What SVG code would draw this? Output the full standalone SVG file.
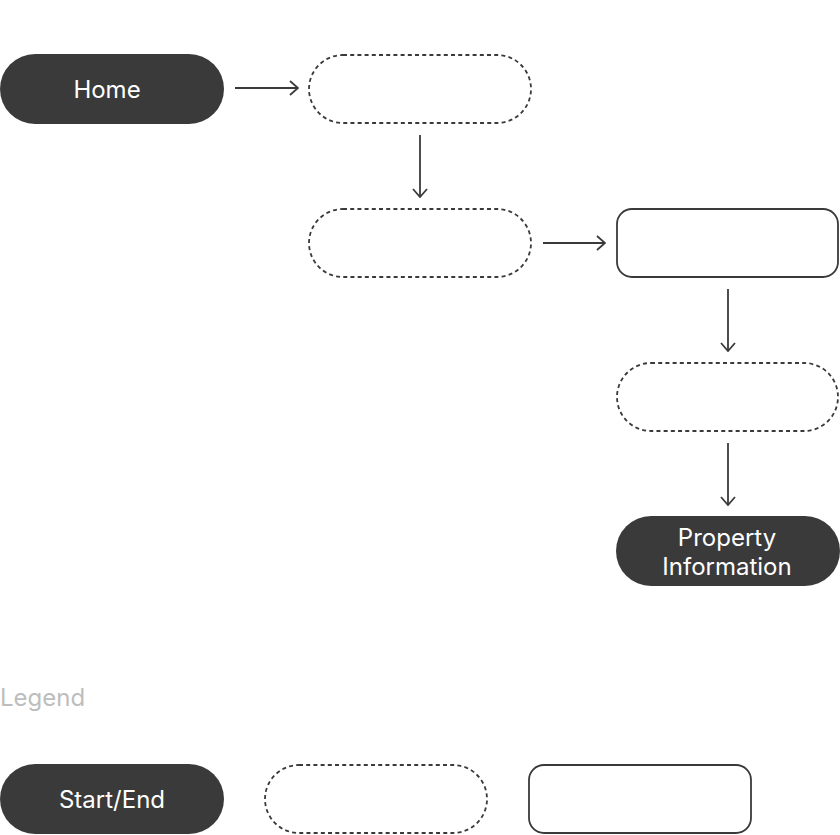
<svg xmlns="http://www.w3.org/2000/svg" width="840" height="835" viewBox="0 0 840 835">
<style>
.term{fill:#3a3a3a;}
.dash{fill:#fff;stroke:#3a3a3a;stroke-width:1.8;stroke-dasharray:4 3.2;}
.solid{fill:#fff;stroke:#3a3a3a;stroke-width:1.8;}
.lbl{font-family:Inter,"Liberation Sans",sans-serif;font-size:24px;fill:#fff;text-anchor:middle;}
.conn{stroke:#3a3a3a;stroke-width:1.8;fill:none;marker-end:url(#ah);}
.legend{font-family:Inter,"Liberation Sans",sans-serif;font-size:24px;fill:#bdbdbd;}
</style>
<defs>
<marker id="ah" viewBox="0 0 10 16" refX="9" refY="8" markerWidth="10" markerHeight="16" markerUnits="userSpaceOnUse" orient="auto">
<path d="M1,1 L9,8 L1,15" fill="none" stroke="#3a3a3a" stroke-width="1.8"/>
</marker>
</defs>
<g id="connectors">
<line class="conn" x1="235" y1="88" x2="298" y2="88"/>
<line class="conn" x1="420" y1="135" x2="420" y2="197"/>
<line class="conn" x1="543" y1="243" x2="605" y2="243"/>
<line class="conn" x1="728" y1="289" x2="728" y2="351"/>
<line class="conn" x1="728" y1="443" x2="728" y2="505"/>
</g>
<g id="home"><rect class="term" x="0" y="54" width="224" height="70" rx="35"/><text class="lbl" x="107" y="98">Home</text></g>
<g id="step1"><rect class="dash" x="309" y="55" width="222" height="68" rx="34"/></g>
<g id="step2"><rect class="dash" x="309" y="209" width="222" height="68" rx="34"/></g>
<g id="step3"><rect class="solid" x="617" y="209" width="221" height="68" rx="15"/></g>
<g id="step4"><rect class="dash" x="617" y="363" width="221" height="68" rx="34"/></g>
<g id="property"><rect class="term" x="616" y="516" width="224" height="70" rx="35"/><text class="lbl" x="727" y="546">Property</text><text class="lbl" x="727" y="575">Information</text></g>
<g id="legend">
<text class="legend" x="0" y="706">Legend</text>
<g id="legend-start"><rect class="term" x="0" y="764" width="224" height="70" rx="35"/><text class="lbl" x="112" y="808">Start/End</text></g>
<g id="legend-dash"><rect class="dash" x="265" y="765" width="222" height="68" rx="34"/></g>
<g id="legend-solid"><rect class="solid" x="529" y="765" width="222" height="68" rx="15"/></g>
</g>
</svg>
